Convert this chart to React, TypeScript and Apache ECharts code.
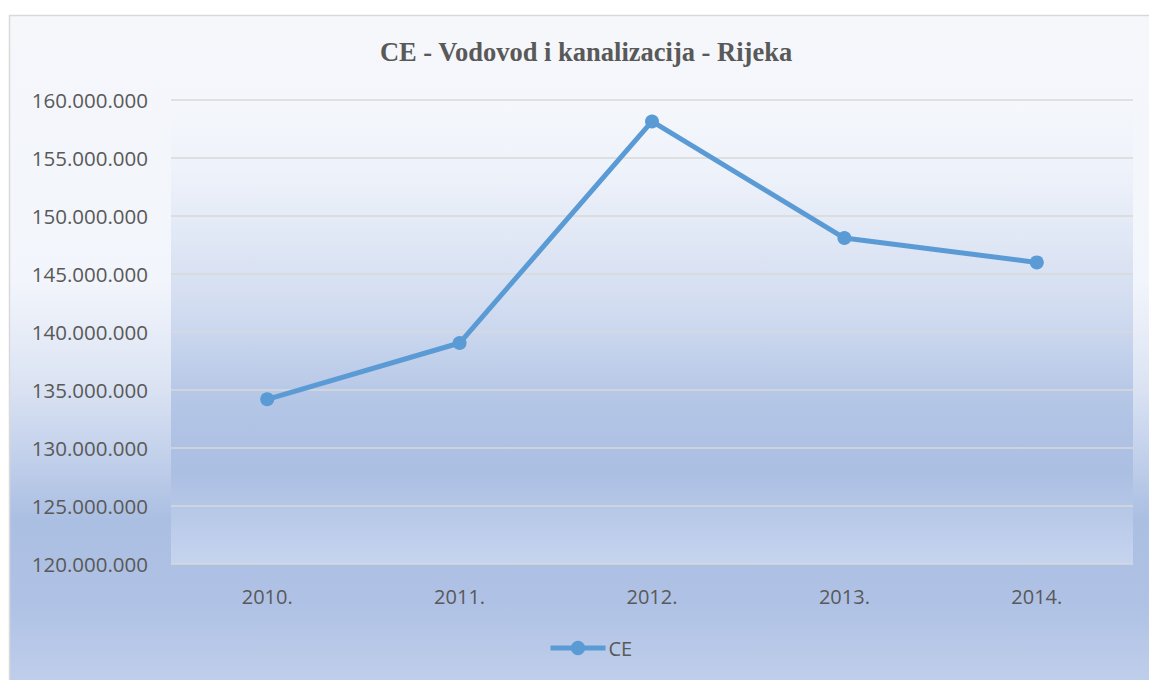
import React, { useEffect, useRef } from "react";
import * as echarts from "echarts";

const categories = ["2010.", "2011.", "2012.", "2013.", "2014."];
const seriesName = "CE";
const values = [134200000, 139050000, 158150000, 148100000, 146000000];
const titleText = "CE - Vodovod i kanalizacija - Rijeka";

const fmt = (v: number) => String(Math.round(v)).replace(/\B(?=(\d{3})+(?!\d))/g, ".");

export default function App() {
  const ref = useRef<HTMLDivElement>(null);
  useEffect(() => {
    if (!ref.current) return;
    const chart = echarts.init(ref.current, null, { renderer: "svg" });
    chart.setOption({
      animation: false,
      graphic: [
        {
          type: "rect",
          z: -10,
          silent: true,
          shape: { x: 9.5, y: 15.5, width: 1170, height: 700 },
          style: {
            stroke: "#d9d9d9",
            lineWidth: 1.5,
            fill: {
              type: "linear",
              x: 0, y: 0, x2: 0, y2: 1,
              colorStops: [
                { offset: 0, color: "#f5f7fb" },
                { offset: 0.38, color: "#f2f5fb" },
                { offset: 0.53, color: "#dbe3f3" },
                { offset: 0.72, color: "#abbfe3" },
                { offset: 0.84, color: "#afc2e5" },
                { offset: 1, color: "#c6d3ed" },
              ],
            },
          },
        },
        {
          type: "text",
          x: 586,
          y: 52,
          style: {
            text: titleText,
            font: "bold 26.5px 'Liberation Serif', 'DejaVu Serif', serif",
            fill: "#595959",
            textAlign: "center",
            textVerticalAlign: "middle",
          },
        },
      ],
      grid: {
        left: 171,
        right: 16,
        top: 100,
        bottom: 116,
        show: true,
        borderWidth: 0,
        backgroundColor: {
          type: "linear",
          x: 0, y: 0, x2: 0, y2: 1,
          colorStops: [
            { offset: 0, color: "#f5f7fb" },
            { offset: 0.15, color: "#eef2fa" },
            { offset: 0.43, color: "#d4def1" },
            { offset: 0.65, color: "#b4c6e6" },
            { offset: 0.8, color: "#abbfe3" },
            { offset: 1, color: "#c6d4ee" },
          ],
        },
      },
      legend: {
        data: [seriesName],
        left: 548,
        top: 638,
        padding: 0,
        itemWidth: 55,
        itemHeight: 18,
        itemGap: 4,
        lineStyle: { width: 5 },
        textStyle: { color: "#595959", fontSize: 20, fontFamily: "Open Sans", padding: [0, 0, 0, -2] },
      },
      xAxis: {
        type: "category",
        data: categories,
        boundaryGap: true,
        axisLine: { show: false },
        axisTick: { show: false },
        axisLabel: { color: "#595959", fontSize: 20, fontFamily: "Open Sans", margin: 22 },
      },
      yAxis: {
        type: "value",
        min: 120000000,
        max: 160000000,
        interval: 5000000,
        axisLine: { show: false },
        axisTick: { show: false },
        axisLabel: {
          color: "#595959",
          fontSize: 20.5,
          fontFamily: "Open Sans",
          margin: 23,
          formatter: (v: number) => fmt(v),
        },
        splitLine: { lineStyle: { color: "#d9d9d9", width: 1.5 } },
      },
      series: [
        {
          name: seriesName,
          type: "line",
          data: values,
          symbol: "circle",
          symbolSize: 14,
          lineStyle: { color: "#5b9bd5", width: 5 },
          itemStyle: { color: "#5b9bd5" },
        },
      ],
    });
    return () => chart.dispose();
  }, []);
  return <div ref={ref} style={{ position: "absolute", left: 0, top: 0, width: 1149, height: 680 }} />;
}
